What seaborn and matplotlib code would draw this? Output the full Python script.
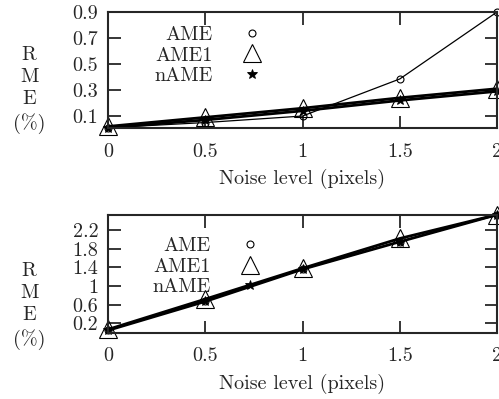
import matplotlib
matplotlib.use("Agg")
import matplotlib.pyplot as plt
import seaborn as sns
import numpy as np
from matplotlib.lines import Line2D

sns.set_style("ticks")
plt.rcParams['font.family'] = ['serif']
plt.rcParams['font.serif'] = ['cmr10', 'DejaVu Serif']
plt.rcParams['axes.formatter.use_mathtext'] = True
FS = 14.5
plt.rcParams['font.size'] = FS

noise = [0, 0.5, 1, 1.5, 2]

# top panel
top_ame = [0.01, 0.05, 0.10, 0.385, 0.90]
top_ame1 = [0.02, 0.09, 0.16, 0.24, 0.31]
top_name = [0.01, 0.07, 0.14, 0.22, 0.29]

# bottom panel
bot_ame = [0.05, 0.68, 1.36, 1.95, 2.53]
bot_ame1 = [0.07, 0.72, 1.38, 2.02, 2.53]
bot_name = [0.05, 0.67, 1.36, 1.95, 2.53]

series_names = ["AME", "AME1", "nAME"]
xticks = [0, 0.5, 1, 1.5, 2]
xticklabels = ["0", "0.5", "1", "1.5", "2"]
top_yticks = [0.1, 0.3, 0.5, 0.7, 0.9]
top_yticklabels = ["0.1", "0.3", "0.5", "0.7", "0.9"]
bot_yticks = [0.2, 0.6, 1.0, 1.4, 1.8, 2.2]
bot_yticklabels = ["0.2", "0.6", "1", "1.4", "1.8", "2.2"]

styles = {
    "AME": dict(marker="o", ms=5, lw=0.9, mew=0.8),
    "AME1": dict(marker="^", ms=13, lw=2.0, mew=0.8),
    "nAME": dict(marker="*", ms=7, lw=2.0, mew=0.6),
}

fig = plt.figure(figsize=(4.99, 3.99), dpi=100)
ax1 = fig.add_axes([108/499, 1-128/399, 389/499, 116/399])
ax2 = fig.add_axes([108/499, 1-332.7/399, 389/499, 118/399])

def draw(ax, data, ylim, yticks, yticklabels, leg_anchor, ylab_y):
    for name, vals in zip(series_names, data):
        st = styles[name]
        mfc = "black" if name == "nAME" else "none"
        sns.lineplot(x=noise, y=vals, ax=ax, color="black", lw=st["lw"],
                     marker=st["marker"], markersize=st["ms"],
                     markerfacecolor=mfc, markeredgecolor="black",
                     markeredgewidth=st["mew"], legend=False, clip_on=False)
    ax.set_xlim(0, 2)
    ax.set_ylim(*ylim)
    ax.set_xticks(xticks)
    ax.set_xticklabels(xticklabels)
    ax.set_yticks(yticks)
    ax.set_yticklabels(yticklabels)
    ax.tick_params(direction="in", length=9, width=1.3, top=True, right=True,
                   labelsize=FS)
    ax.tick_params(axis="x", pad=10.5)
    ax.tick_params(axis="y", pad=7)
    for sp in ax.spines.values():
        sp.set_linewidth(1.5)
        sp.set_visible(True)
    ax.set_xlabel("Noise level (pixels)", fontsize=FS, labelpad=6)
    ax.set_ylabel("R\nM\nE\n(%)", rotation=0, fontsize=FS, ha="center",
                  va="center", linespacing=1.3)
    ax.yaxis.set_label_coords(-0.203, ylab_y)
    handles = []
    for name in series_names:
        st = styles[name]
        mfc = "black" if name == "nAME" else "none"
        handles.append(Line2D([], [], linestyle="none", color="black",
                              marker=st["marker"], markersize=st["ms"],
                              markerfacecolor=mfc, markeredgecolor="black",
                              markeredgewidth=st["mew"]))
    ax.legend(handles, series_names, markerfirst=False, frameon=False,
              loc="upper right", bbox_to_anchor=leg_anchor, borderpad=0,
              borderaxespad=0, handlelength=1.5, handletextpad=1.19,
              labelspacing=0.12, fontsize=FS)

draw(ax1, [top_ame, top_ame1, top_name], (0.008, 0.9), top_yticks,
     top_yticklabels, (0.409, 0.88), 0.33)
draw(ax2, [bot_ame, bot_ame1, bot_name], (0.0, 2.53), bot_yticks,
     bot_yticklabels, (0.404, 0.81), 0.225)

fig.savefig("out.png", dpi=100)
